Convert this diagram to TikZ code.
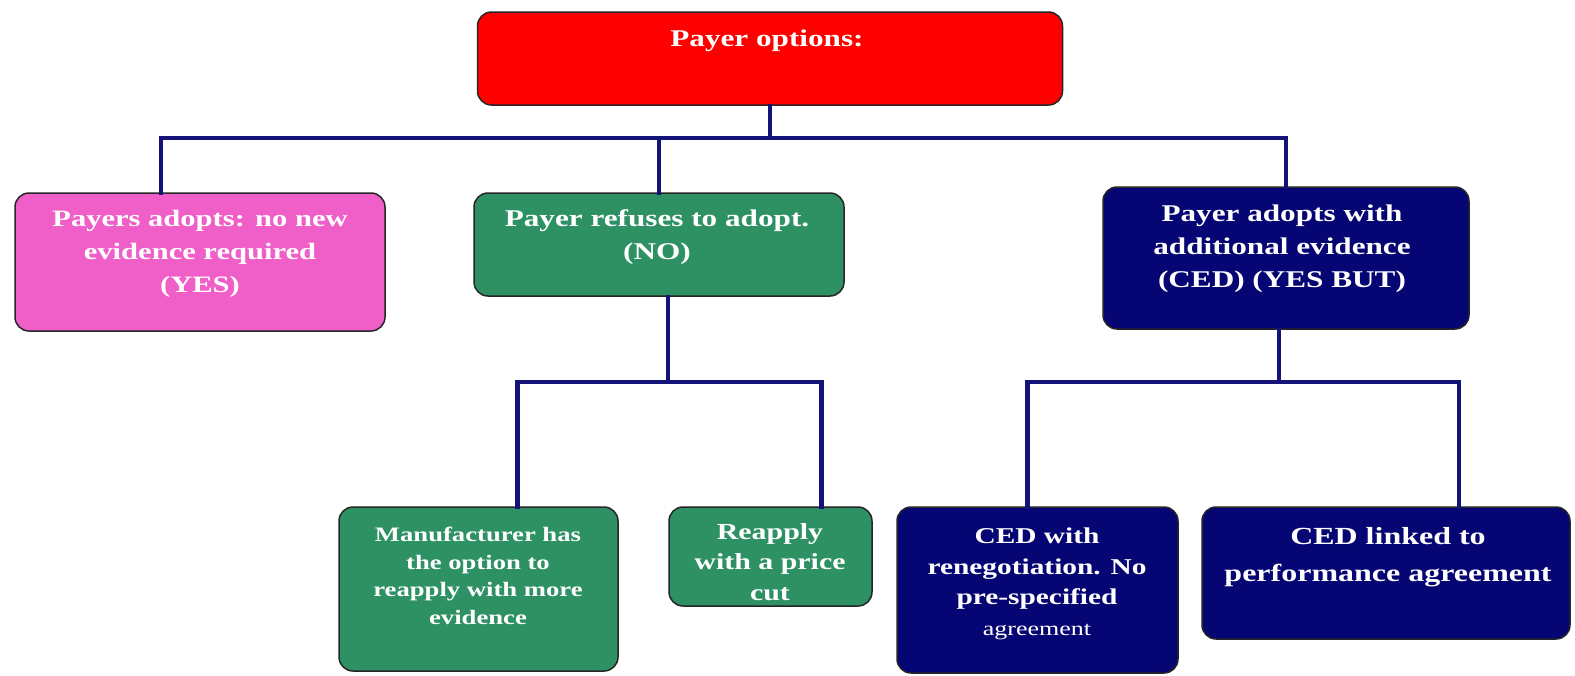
\documentclass[tikz,border=0pt]{standalone}
\usepackage{fontspec}
\setmainfont{Liberation Serif}[FakeStretch=1.3]
\definecolor{boxred}{RGB}{255,0,0}
\definecolor{boxpink}{RGB}{240,95,200}
\definecolor{boxgreen}{RGB}{46,145,100}
\definecolor{boxnavy}{RGB}{5,5,115}
\definecolor{linenavy}{RGB}{20,20,120}
\tikzset{
  box/.style={draw=black!85, line width=1.5pt, rounded corners=14pt, inner sep=0pt},
  txt/.style={text=white, align=center, inner sep=0pt, font=\bfseries},
  conn/.style={draw=linenavy, line width=4.5pt, line cap=rect}
}
\begin{document}
\begin{tikzpicture}[x=1pt,y=-1pt]
\useasboundingbox (0,0) rectangle (1575,675);
\fill[white] (0,0) rectangle (1575,675);
% connectors
\coordinate (b1) at (770,138);
\coordinate (b2) at (668,382);
\coordinate (b3) at (1279,382);
% boxes
\node[box, fill=boxred, minimum width=585pt, minimum height=93pt] (top) at (770,58.5) {};
\node[box, fill=boxpink, minimum width=370pt, minimum height=138pt] (pink) at (200,262) {};
\node[box, fill=boxgreen, minimum width=370pt, minimum height=103pt] (green1) at (659,244.5) {};
\node[box, fill=boxnavy, minimum width=366pt, minimum height=142pt] (navy1) at (1286,258) {};
\node[box, fill=boxgreen, minimum width=279pt, minimum height=164pt] (green2) at (478.5,589) {};
\node[box, fill=boxgreen, minimum width=203pt, minimum height=99pt] (green3) at (770.5,556.5) {};
\node[box, fill=boxnavy, minimum width=281pt, minimum height=166pt] (navy2) at (1037.5,590) {};
\node[box, fill=boxnavy, minimum width=368pt, minimum height=132pt] (navy3) at (1386,573) {};
% texts
\node[txt, font=\bfseries\fontsize{24}{30}\selectfont] (ttop) at (767,41) {Payer options:};
\node[txt, font=\bfseries\fontsize{23.5}{33}\selectfont] (tpink) at (200,254) {Payers adopts:  no new\\evidence required\\(YES)};
\node[txt, font=\bfseries\fontsize{24}{33}\selectfont] (tgreen1) at (657,237) {Payer refuses to adopt.\\(NO)};
\node[txt, font=\bfseries\fontsize{24}{33}\selectfont] (tnavy1) at (1282,249) {Payer adopts with\\additional evidence\\(CED) (YES BUT)};
\node[txt, font=\bfseries\fontsize{20.5}{27.5}\selectfont] (tgreen2) at (478,576) {Manufacturer has\\the option  to\\reapply with more\\evidence};
\node[txt, font=\bfseries\fontsize{23}{30.5}\selectfont] (tgreen3) at (770,562) {Reapply\\with a price\\cut};
\node[txt, font=\bfseries\fontsize{22.6}{30.5}\selectfont] (tnavy2) at (1037,584) {CED with\\renegotiation. No\\pre-specified\\{\mdseries\fontsize{20}{30.5}\selectfont agreement}};
\node[txt, font=\bfseries\fontsize{24.6}{37}\selectfont] (tnavy3) at (1388,557) {CED linked to\\performance agreement};
% connector lines
\draw[conn] (top.south) -- (b1);
\draw[conn] ([xshift=-39pt]pink.north) |- (b1) -| (navy1.north);
\draw[conn] (b1) -| (green1.north);
\draw[conn] ([xshift=9pt]green1.south) -- (b2);
\draw[conn] ([xshift=39pt]green2.north) |- (b2) -| ([xshift=51pt]green3.north);
\draw[conn] ([xshift=-7pt]navy1.south) -- (b3);
\draw[conn] ([xshift=-10pt]navy2.north) |- (b3) -| ([xshift=73pt]navy3.north);
\end{tikzpicture}
\end{document}
